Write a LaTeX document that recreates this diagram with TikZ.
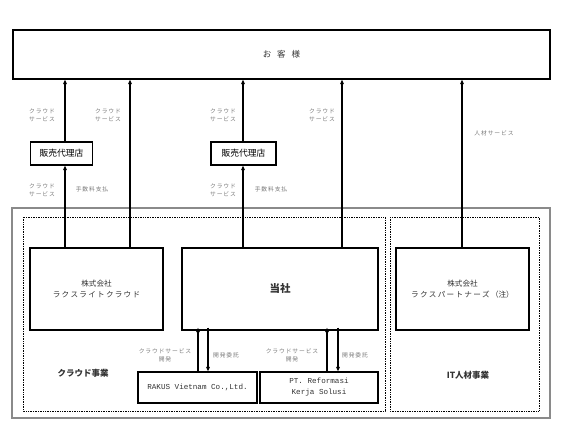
\documentclass[tikz,border=0pt]{standalone}
\usepackage{fontspec}
\setmainfont{Noto Sans CJK JP}
\newfontfamily\lblfont[LetterSpace=15]{Noto Sans CJK JP}
\newfontfamily\latinmono{Liberation Mono}
\usetikzlibrary{arrows.meta}
\definecolor{lblgray}{HTML}{7A7A7A}
\definecolor{txtgray}{HTML}{333333}
\definecolor{framegray}{HTML}{8A8A8A}
\tikzset{
  box/.style={draw=black, line width=1.2pt, rectangle, inner sep=0pt, align=center, text=txtgray},
  lbl/.style={font=\lblfont\fontsize{5.8}{8}\selectfont, text=lblgray, align=center, inner sep=0pt},
  arr/.style={line width=1.3pt, -{Triangle[length=4.5pt,width=3.6pt]}},
  dotbox/.style={draw=black, line width=1pt, dash pattern=on 0.8pt off 0.9pt},
}
\begin{document}
\begin{tikzpicture}[x=1pt,y=-1pt]
\useasboundingbox (0,0) rectangle (567,431);
% frames
\draw[draw=framegray, line width=1.6pt] (12,208) rectangle (550,418);
\draw[dotbox] (23,217) rectangle (385,411);
\draw[dotbox] (390,217) rectangle (539,411);
% nodes
\node[box, minimum width=537pt, minimum height=49pt, font=\fontsize{8.5}{10}\selectfont] (cust) at (281.5,54.5) {お\hspace{0.7em}客\hspace{0.7em}様};
\node[box, minimum width=62pt, minimum height=23pt, font=\fontsize{8.8}{10}\selectfont, text=black] (ag1) at (61.5,153.5) {販売代理店};
\node[box, minimum width=65pt, minimum height=23pt, font=\fontsize{8.8}{10}\selectfont, text=black] (ag2) at (243.5,153.5) {販売代理店};
\node[box, minimum width=133pt, minimum height=82pt, font=\fontsize{7.6}{12}\selectfont] (lc) at (96.5,289) {株式会社\\[-1pt]ラ\,ク\,ス\,ラ\,イ\,ト\,ク\,ラ\,ウ\,ド};
\node[box, minimum width=196pt, minimum height=82pt, font=\bfseries\fontsize{10.5}{12}\selectfont] (tosha) at (280,289) {当社};
\node[box, minimum width=133pt, minimum height=82pt, font=\fontsize{7.6}{12}\selectfont] (rp) at (462.5,289) {株式会社\\[-1pt]ラ\,ク\,ス\,パ\,ー\,ト\,ナ\,ー\,ズ\,（注）};
\node[box, minimum width=119pt, minimum height=31pt, font=\latinmono\fontsize{7.6}{11}\selectfont] (rv) at (197.5,387.5) {RAKUS Vietnam Co.,Ltd.};
\node[box, minimum width=118pt, minimum height=31pt, font=\latinmono\fontsize{7.6}{11}\selectfont] (pt) at (319,387.5) {PT. Reformasi\\Kerja Solusi};
% business labels
\node[font=\bfseries\fontsize{8.5}{10}\selectfont, text=txtgray] (cloudbiz) at (83,373) {クラウド事業};
\node[font=\bfseries\fontsize{8.5}{10}\selectfont, text=txtgray] (itbiz) at (468,375) {IT人材事業};
% column coordinates
\coordinate (x1) at (65,0);
\coordinate (x2) at (130,0);
\coordinate (x3) at (243,0);
\coordinate (x4) at (342,0);
\coordinate (x5) at (462,0);
\coordinate (x6) at (198,0);
\coordinate (x7) at (208,0);
\coordinate (x8) at (327,0);
\coordinate (x9) at (338,0);
% connectors
\draw[arr] (lc.north -| x1) -- (ag1.south -| x1);
\draw[arr] (ag1.north -| x1) -- (cust.south -| x1);
\draw[arr] (lc.north -| x2) -- (cust.south -| x2);
\draw[arr] (tosha.north -| x3) -- (ag2.south -| x3);
\draw[arr] (ag2.north -| x3) -- (cust.south -| x3);
\draw[arr] (tosha.north -| x4) -- (cust.south -| x4);
\draw[arr] (rp.north -| x5) -- (cust.south -| x5);
\draw[arr] (rv.north -| x6) -- ([yshift=3pt]tosha.south -| x6);
\draw[arr] ([yshift=3pt]tosha.south -| x7) -- (rv.north -| x7);
\draw[arr] (pt.north -| x8) -- ([yshift=3pt]tosha.south -| x8);
\draw[arr] ([yshift=3pt]tosha.south -| x9) -- (pt.north -| x9);
% small labels
\node[lbl] (l1) at (42,115) {クラウド\\サービス};
\node[lbl] (l2) at (108,115) {クラウド\\サービス};
\node[lbl] (l3) at (223,115) {クラウド\\サービス};
\node[lbl] (l4) at (322,115) {クラウド\\サービス};
\node[lbl] (l5) at (494,133) {人材サービス};
\node[lbl] (l6) at (42,190) {クラウド\\サービス};
\node[lbl] (l7) at (92,189) {手数料支払};
\node[lbl] (l8) at (223,190) {クラウド\\サービス};
\node[lbl] (l9) at (271,189) {手数料支払};
\node[lbl] (l10) at (165,355) {クラウドサービス\\開発};
\node[lbl] (l11) at (226,355) {開発委託};
\node[lbl] (l12) at (292,355) {クラウドサービス\\開発};
\node[lbl] (l13) at (355,355) {開発委託};
\end{tikzpicture}
\end{document}
